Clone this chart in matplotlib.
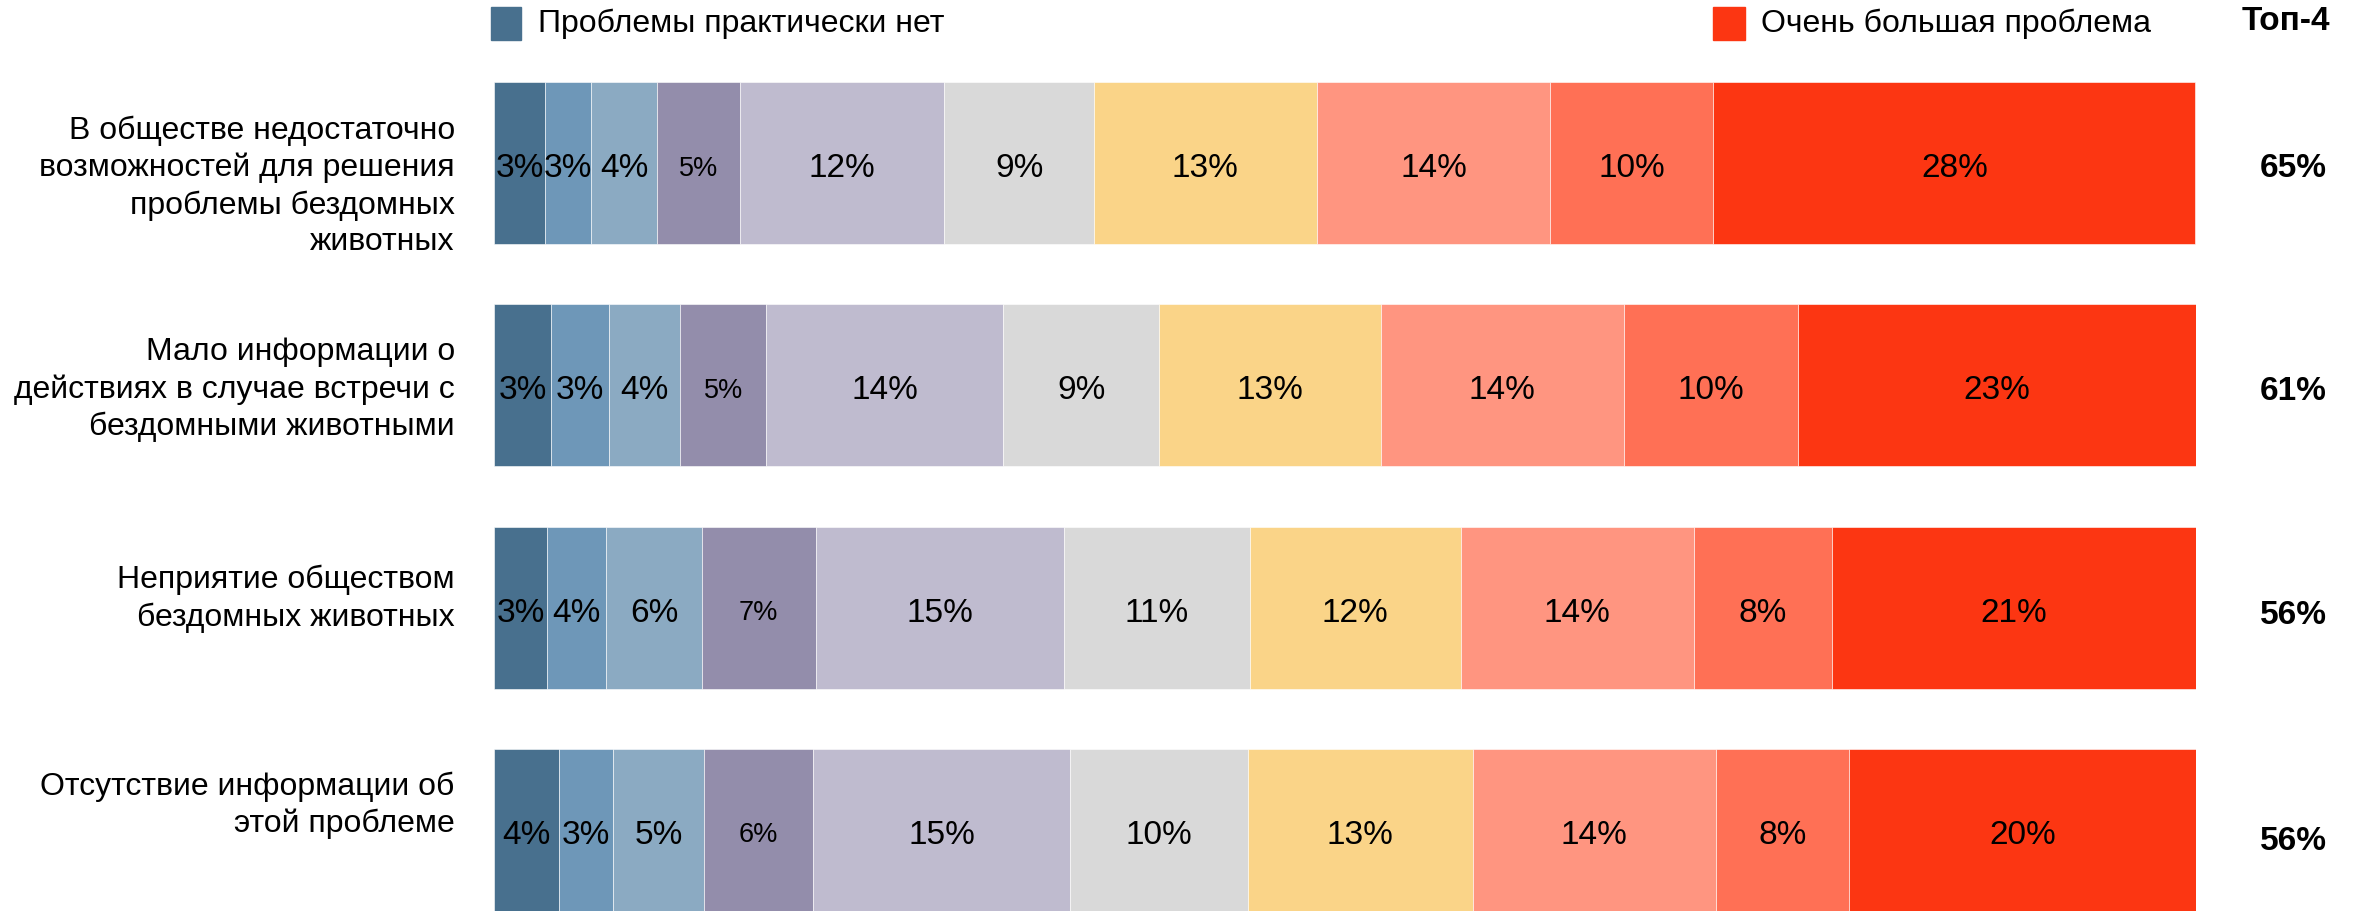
import matplotlib
matplotlib.use("Agg")
import matplotlib.pyplot as plt
from matplotlib.patches import Rectangle
import numpy as np

plt.rcParams['font.family'] = ['Liberation Sans', 'DejaVu Sans']

categories = [
    "В обществе недостаточно\nвозможностей для решения\nпроблемы бездомных\nживотных",
    "Мало информации о\nдействиях в случае встречи с\nбездомными животными",
    "Неприятие обществом\nбездомных животных",
    "Отсутствие информации об\nэтой проблеме",
]
row1 = [3.0, 2.7, 3.9, 4.85, 12.0, 8.8, 13.1, 13.7, 9.6, 28.3]
row2 = [3.35, 3.4, 4.2, 5.05, 13.9, 9.2, 13.0, 14.3, 10.2, 23.4]
row3 = [3.1, 3.5, 5.6, 6.7, 14.6, 10.9, 12.4, 13.7, 8.1, 21.4]
row4 = [3.8, 3.2, 5.35, 6.4, 15.1, 10.45, 13.2, 14.3, 7.8, 20.4]
legend_labels = ["Проблемы практически нет", "Очень большая проблема"]
top_header = "Топ-4"

colors = ["#48708E", "#6E97B8", "#8BAAC2", "#938DAB", "#BFBBCF",
          "#D9D9D9", "#FAD488", "#FF9580", "#FF7055", "#FC3612"]

data = np.array([row1, row2, row3, row4])
W, H = 2356, 912
fig = plt.figure(figsize=(W / 100, H / 100), dpi=100)
h = 0.73
ax = fig.add_axes([494 / W, 0, 1702 / W, 829 / H])
ax.set_xlim(0, 100)
ax.set_ylim(3 + h / 2, -h / 2)
ax.axis('off')

label_dy = [0.10, 0.015, -0.045, -0.115]
top_dy = [0.02, 0.025, 0.03, 0.05]
for i, vals in enumerate(data):
    left = 0.0
    for j, v in enumerate(vals):
        ax.barh(i, v, left=left, height=h, color=colors[j],
                edgecolor='white', linewidth=0.4)
        fs = 19.5 if j == 3 else 24
        ax.text(left + v / 2, i + 0.02, f"{int(v + 0.5)}%", ha='center',
                va='center', fontsize=fs, color='black')
        left += v
    top4 = vals[-4:].sum()
    ax.text(105.7, i + top_dy[i], f"{int(top4 + 0.5)}%", ha='center',
            va='center', fontsize=24, fontweight='bold', color='black',
            clip_on=False)
    ax.text(-2.3, i + label_dy[i], categories[i], ha='right', va='center',
            fontsize=23, color='black', linespacing=1.3, clip_on=False)

# header and legend
fig.text(2286 / W, 1 - 22 / H, top_header, ha='center', va='center',
         fontsize=24, fontweight='bold')
fig.patches.append(Rectangle((491 / W, 1 - 41 / H), 30 / W, 33 / H,
                             transform=fig.transFigure, color=colors[0]))
fig.text(538 / W, 1 - 24 / H, legend_labels[0], ha='left', va='center',
         fontsize=23)
fig.patches.append(Rectangle((1713 / W, 1 - 41 / H), 32 / W, 33 / H,
                             transform=fig.transFigure, color=colors[-1]))
fig.text(1761 / W, 1 - 24 / H, legend_labels[1], ha='left', va='center',
         fontsize=23)

fig.savefig("out.png", dpi=100, facecolor='white')
